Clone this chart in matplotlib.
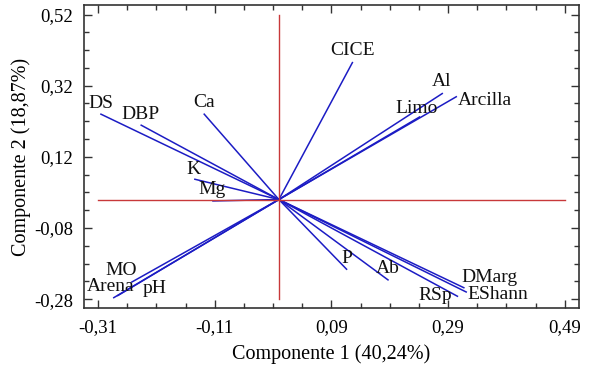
import numpy as np
import matplotlib.pyplot as plt
from matplotlib.ticker import FixedLocator

plt.rcParams['font.family'] = ['Liberation Serif', 'DejaVu Serif']

# Loadings on the first two principal components
variables = ['DS', 'DBP', 'Ca', 'K', 'Mg', 'CICE', 'Al', 'Arcilla', 'Limo',
             'P', 'Ab', 'DMarg', 'EShann', 'RSp', 'MO', 'Arena', 'pH']
comp1 = [-0.305, -0.236, -0.128, -0.144, -0.113, 0.126, 0.280, 0.304, 0.241,
         0.116, 0.187, 0.317, 0.321, 0.306, -0.252, -0.283, -0.276]
comp2 = [0.240, 0.209, 0.240, 0.057, -0.004, 0.385, 0.298, 0.289, 0.232,
         -0.196, -0.226, -0.248, -0.260, -0.272, -0.232, -0.276, -0.270]

xticks = [-0.31, -0.11, 0.09, 0.29, 0.49]
yticks = [-0.28, -0.08, 0.12, 0.32, 0.52]

# label placement (offset in pixels from arrow tip, horizontal alignment)
label_pos = {
    'DS': (0, 11, 'center'), 'DBP': (-1, 11, 'center'), 'Ca': (0, 12, 'center'),
    'K': (-1, 10, 'center'), 'Mg': (-1, 11, 'center'), 'CICE': (0, 12, 'center'),
    'Al': (-1, 12, 'center'), 'Arcilla': (2, -4, 'left'), 'Limo': (-3, 9, 'center'),
    'P': (0, 11, 'center'), 'Ab': (0, 11, 'center'), 'DMarg': (-2, 10, 'left'),
    'EShann': (1, -3, 'left'), 'RSp': (-5, 1, 'right'), 'MO': (-11, 12, 'center'),
    'Arena': (-3, 11, 'center'), 'pH': (37, 7, 'center'),
}

fig = plt.figure(figsize=(5.9, 3.75), dpi=100)
ax = fig.add_axes([0.1424, 0.1787, 0.8386, 0.808])

blue = '#1c1cc4'
red = '#c8383a'

for name, x, y in zip(variables, comp1, comp2):
    ax.plot([0, x], [0, y], color=blue, lw=1.1, zorder=2)
    dx, dy, ha = label_pos[name]
    ax.annotate(name, (x, y), xytext=(dx, dy), textcoords='offset pixels',
                ha=ha, va='center', fontsize=14, color='#111111')

# reference axes through the origin
ax.plot([xticks[0], xticks[-1]], [0, 0], color=red, lw=1.0, zorder=3)
ax.plot([0, 0], [yticks[0], yticks[-1]], color=red, lw=1.0, zorder=3)

ax.set_xlim(-0.334, 0.514)
ax.set_ylim(-0.305, 0.547)
ax.xaxis.set_major_locator(FixedLocator(xticks))
ax.yaxis.set_major_locator(FixedLocator(yticks))
ax.xaxis.set_minor_locator(FixedLocator(np.arange(-0.31, 0.50, 0.05)))
ax.yaxis.set_minor_locator(FixedLocator(np.arange(-0.28, 0.53, 0.05)))
ax.set_xticklabels([f'{t:.2f}'.replace('.', ',') for t in xticks])
ax.set_yticklabels([f'{t:.2f}'.replace('.', ',') for t in yticks])

ax.tick_params(which='both', direction='in', top=True, right=True,
               labelsize=13.5, color='#333333', width=1.0)
ax.tick_params(which='major', length=6, pad=8)
ax.tick_params(which='minor', length=3.5)
for s in ax.spines.values():
    s.set_linewidth(1.2)
    s.set_color('#333333')

ax.set_xlabel('Componente 1 (40,24%)', fontsize=14.5, labelpad=6)
ax.set_ylabel('Componente 2 (18,87%)', fontsize=14.5, labelpad=2)

fig.savefig('out.png', dpi=100)
